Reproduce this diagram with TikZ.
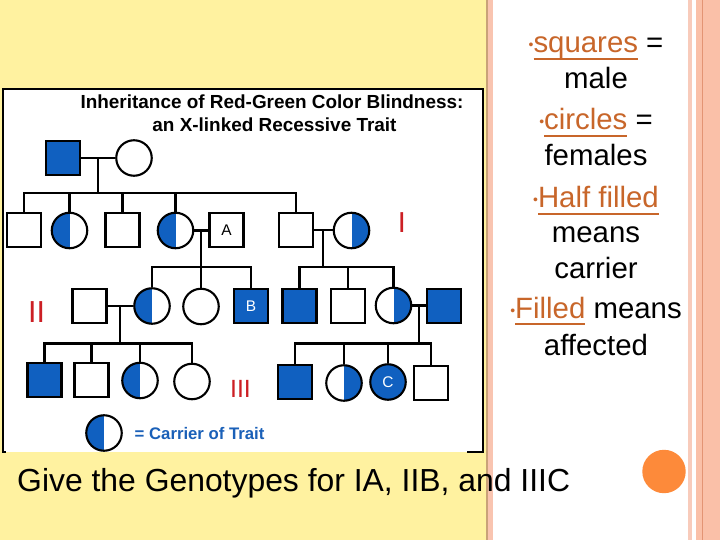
\documentclass[tikz,border=0pt]{standalone}
\usepackage{fontspec}
\setmainfont{Liberation Sans}
\usetikzlibrary{calc}
\definecolor{bgyellow}{HTML}{FFF2A0}
\definecolor{stripbrown}{HTML}{C9A278}
\definecolor{pinkA}{HTML}{F9C4B0}
\definecolor{pinkB}{HTML}{F8CBBB}
\definecolor{pinkC}{HTML}{FAC0A8}
\definecolor{pinkline}{HTML}{E39474}
\definecolor{pedblue}{HTML}{1060C0}
\definecolor{legblue}{HTML}{1A60B8}
\definecolor{genred}{HTML}{CC1F24}
\definecolor{orng}{HTML}{C8662A}
\definecolor{dotorange}{HTML}{FD8A3A}
\newcommand{\fs}[1]{\fontsize{#1}{#1}\selectfont}
\newcommand{\bul}{{\color{orng}\raisebox{3bp}{\fs{14}•}}}
\newcommand{\ulo}[1]{\mbox{\color{orng}\setbox0\hbox{#1}\rlap{\rule[-0.24em]{\wd0}{0.07em}}\box0}}
\begin{document}
\begin{tikzpicture}[x=1bp,y=-1bp,
  sq/.style={rectangle, draw=black, line width=2.1bp, minimum size=34bp, inner sep=0pt, fill=white},
  ci/.style={circle, draw=black, line width=2.1bp, minimum size=35.5bp, inner sep=0pt, fill=white},
  aff/.style={fill=pedblue, text=white},
  halfL/.style={ci, path picture={\fill[pedblue] (path picture bounding box.north west) rectangle (path picture bounding box.south);}},
  halfR/.style={ci, path picture={\fill[pedblue] (path picture bounding box.north) rectangle (path picture bounding box.south east);}},
  conn/.style={draw=black, line width=2.1bp},
  gen/.style={text=genred, anchor=base, inner sep=0pt},
  rtext/.style={anchor=base, inner sep=0pt, font=\fs{29.5}},
  lbl/.style={font=\fs{15.5}}
]
\useasboundingbox (0,0) rectangle (720,540);
% backgrounds
\fill[bgyellow] (0,0) rectangle (487,540);
\fill[stripbrown] (486,0) rectangle (488,540);
\fill[pinkA] (488,0) rectangle (493,540);
\fill[white] (493,0) rectangle (688,540);
\fill[pinkB] (688,0) rectangle (692,540);
\fill[white] (692,0) rectangle (696,540);
\fill[pinkC] (696,0) rectangle (720,540);
\draw[pinkline, line width=1bp] (702.5,0) -- (702.5,540);
% picture box
\fill[white] (3,89) rectangle (483,452);
\draw[black, line width=1.2bp] (467,452) -- (483,452) -- (483,89) -- (3,89) -- (3,452) -- (6,452);
% title
\node[font=\bfseries\fs{19}, anchor=base, inner sep=0pt] (t1) at (272,108.3) {Inheritance of Red-Green Color Blindness:};
\node[font=\bfseries\fs{19}, anchor=base, inner sep=0pt] (t2) at (274.5,131.7) {an X-linked Recessive Trait};
% generation I
\node[sq,aff] (g1m) at (63,158) {};
\node[ci] (g1f) at (134,158) {};
% generation II (first row)
\node[sq] (a1) at (24,230) {};
\node[halfL] (a2) at (69.5,230.5) {};
\node[sq] (a3) at (122.5,230) {};
\node[halfL] (a4) at (175.5,230.5) {};
\node[sq,lbl] (nA) at (226.5,230) {A};
\node[sq] (b1) at (296,230) {};
\node[halfR] (b2) at (351.5,230.5) {};
% generation II (second row)
\node[sq] (c1) at (89.5,306) {};
\node[halfL] (c2) at (152,306) {};
\node[ci] (c3) at (201,306.5) {};
\node[sq,aff,lbl] (nB) at (251,306) {B};
\node[sq,aff] (d1) at (299.5,306) {};
\node[sq] (d2) at (348,306) {};
\node[halfR] (d3) at (393.5,305.5) {};
\node[sq,aff] (d4) at (444,306) {};
% generation III
\node[sq,aff] (e1) at (44.5,380) {};
\node[sq] (e2) at (91.5,380) {};
\node[halfL] (e3) at (140,380.5) {};
\node[ci] (e4) at (192,381.5) {};
\node[sq,aff] (f1) at (295,382) {};
\node[halfR] (f2) at (344,383) {};
\node[ci,aff,lbl] (nC) at (388,382) {C};
\node[sq] (f4) at (431,383) {};
% sibling-line levels
\coordinate (y1) at (0,193);
\coordinate (y2) at (0,267);
\coordinate (y3) at (0,343.5);
% family 1
\draw[conn] (g1m.east) -- (g1f.west);
\coordinate (m1) at ($(g1m.east)!0.5!(g1f.west)$);
\draw[conn] (m1) -- (m1 |- y1);
\draw[conn] (a1.north) -- (a1.north |- y1) -- (b1.north |- y1) -- (b1.north);
\foreach \n in {a2,a3,a4} \draw[conn] (\n.north) -- (\n.north |- y1);
% family 2
\draw[conn] (a4.east) -- (nA.west |- a4.east);
\coordinate (m2) at ($(a4.east)!0.5!(nA.west |- a4.east)$);
\draw[conn] (m2) -- (m2 |- y2);
\draw[conn] (c2.north) -- (c2.north |- y2) -- (nB.north |- y2) -- (nB.north);
\draw[conn] (c3.north) -- (c3.north |- y2);
% family 3
\draw[conn] (b1.east) -- (b2.west |- b1.east);
\coordinate (m3) at ($(b1.east)!0.5!(b2.west |- b1.east)$);
\draw[conn] (m3) -- (m3 |- y2);
\draw[conn] (d1.north) -- (d1.north |- y2) -- (d3.north |- y2) -- (d3.north);
\draw[conn] (d2.north) -- (d2.north |- y2);
% family 4
\draw[conn] (c1.east) -- (c2.west |- c1.east);
\coordinate (m4) at ($(c1.east)!0.5!(c2.west |- c1.east)$);
\draw[conn] (m4) -- (m4 |- y3);
\draw[conn] (e1.north) -- (e1.north |- y3) -- (e4.north |- y3) -- (e4.north);
\foreach \n in {e2,e3} \draw[conn] (\n.north) -- (\n.north |- y3);
% family 5
\draw[conn] (d3.east) -- (d4.west |- d3.east);
\coordinate (m5) at ($(d3.east)!0.5!(d4.west |- d3.east)$);
\draw[conn] (m5) -- (m5 |- y3);
\draw[conn] (f1.north) -- (f1.north |- y3) -- (f4.north |- y3) -- (f4.north);
\foreach \n in {f2,nC} \draw[conn] (\n.north) -- (\n.north |- y3);
% generation labels
\node[gen, font=\fs{29}] (gI) at (402,233) {I};
\node[gen, font=\fs{30.5}] (gII) at (36.5,322.7) {II};
\node[gen, font=\fs{25}] (gIII) at (240.5,397) {III};
% legend
\node[halfL] (leg) at (104,433) {};
\node[anchor=base west, inner sep=0pt, text=legblue, font=\bfseries\fs{16.8}] (legt) at (134.5,439.3) {= Carrier of Trait};
% right panel text
\node[rtext] (r1) at (596,53) {\bul\ulo{squares} =};
\node[rtext] (r2) at (596,89) {male};
\node[rtext] (r3) at (596,130) {\bul\ulo{circles} =};
\node[rtext] (r4) at (596,166) {females};
\node[rtext] (r5) at (596,208) {\bul\ulo{Half filled}};
\node[rtext] (r6) at (596,243) {means};
\node[rtext] (r7) at (596,279) {carrier};
\node[rtext] (r8) at (596,318) {\bul\ulo{Filled} means};
\node[rtext] (r9) at (596,355) {affected};
% orange dot
\fill[dotorange] (664,471.5) circle[radius=21.7];
% question
\node[anchor=base west, inner sep=0pt, font=\fs{32}] (q) at (17,491.5) {Give the Genotypes for IA, IIB, and IIIC};
\end{tikzpicture}
\end{document}
